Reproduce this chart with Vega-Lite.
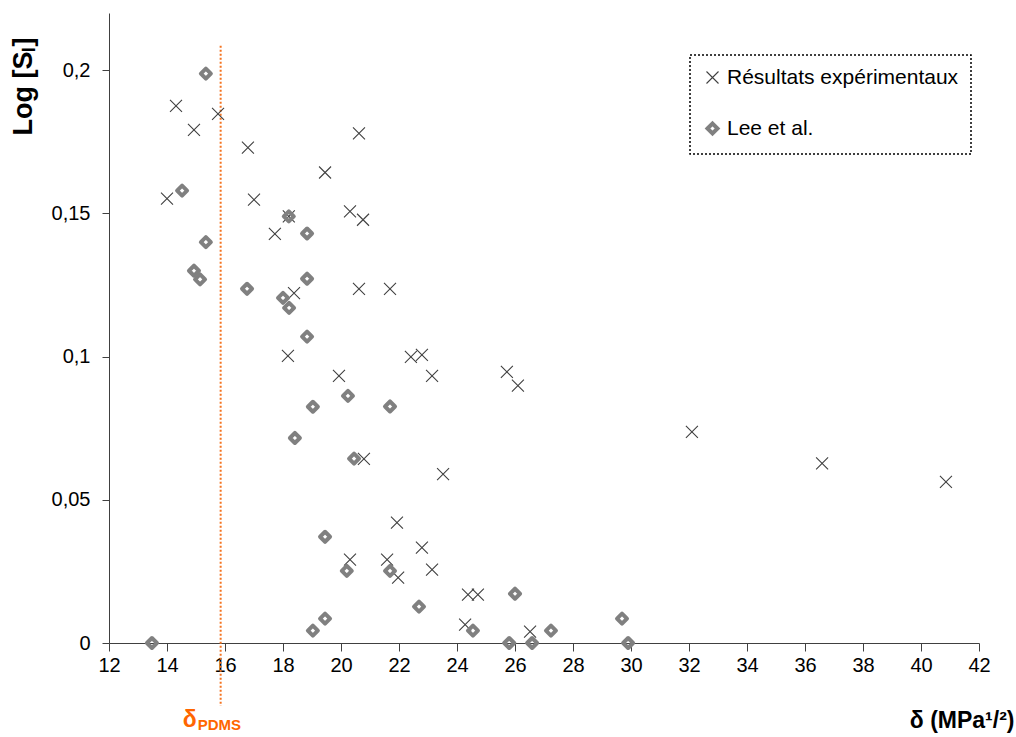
{
  "$schema": "https://vega.github.io/schema/vega-lite/v6.json",
  "width": 870,
  "height": 630,
  "autosize": {"type": "none"},
  "padding": {"left": 109, "top": 13, "right": 37, "bottom": 94},
  "background": "white",
  "config": {
    "view": {"stroke": null},
    "font": "Liberation Sans",
    "axis": {"grid": false, "domainColor": "#404040", "tickColor": "#404040", "labelColor": "#000000", "titleColor": "#000000", "labelFont": "Liberation Sans", "titleFont": "Liberation Sans"},
    "legend": {"strokeDash": [2, 2], "strokeWidth": 1.5}
  },
  "datasets": {
    "pts": [
      {"delta": 14.31, "logS": 0.1876, "serie": "Résultats expérimentaux"},
      {"delta": 14.93, "logS": 0.1792, "serie": "Résultats expérimentaux"},
      {"delta": 15.76, "logS": 0.1848, "serie": "Résultats expérimentaux"},
      {"delta": 16.79, "logS": 0.1730, "serie": "Résultats expérimentaux"},
      {"delta": 19.45, "logS": 0.1643, "serie": "Résultats expérimentaux"},
      {"delta": 17.0, "logS": 0.1548, "serie": "Résultats expérimentaux"},
      {"delta": 14.0, "logS": 0.1552, "serie": "Résultats expérimentaux"},
      {"delta": 17.72, "logS": 0.1429, "serie": "Résultats expérimentaux"},
      {"delta": 18.2, "logS": 0.149, "serie": "Résultats expérimentaux"},
      {"delta": 18.38, "logS": 0.1222, "serie": "Résultats expérimentaux"},
      {"delta": 18.17, "logS": 0.1003, "serie": "Résultats expérimentaux"},
      {"delta": 19.93, "logS": 0.0933, "serie": "Résultats expérimentaux"},
      {"delta": 20.62, "logS": 0.178, "serie": "Résultats expérimentaux"},
      {"delta": 20.31, "logS": 0.1507, "serie": "Résultats expérimentaux"},
      {"delta": 20.76, "logS": 0.1478, "serie": "Résultats expérimentaux"},
      {"delta": 20.62, "logS": 0.1237, "serie": "Résultats expérimentaux"},
      {"delta": 21.69, "logS": 0.1237, "serie": "Résultats expérimentaux"},
      {"delta": 22.41, "logS": 0.0999, "serie": "Résultats expérimentaux"},
      {"delta": 22.79, "logS": 0.1006, "serie": "Résultats expérimentaux"},
      {"delta": 23.14, "logS": 0.0933, "serie": "Résultats expérimentaux"},
      {"delta": 25.72, "logS": 0.0947, "serie": "Résultats expérimentaux"},
      {"delta": 26.1, "logS": 0.0899, "serie": "Résultats expérimentaux"},
      {"delta": 20.79, "logS": 0.0643, "serie": "Résultats expérimentaux"},
      {"delta": 23.52, "logS": 0.059, "serie": "Résultats expérimentaux"},
      {"delta": 21.93, "logS": 0.042, "serie": "Résultats expérimentaux"},
      {"delta": 22.79, "logS": 0.0333, "serie": "Résultats expérimentaux"},
      {"delta": 20.31, "logS": 0.0291, "serie": "Résultats expérimentaux"},
      {"delta": 21.59, "logS": 0.0291, "serie": "Résultats expérimentaux"},
      {"delta": 21.97, "logS": 0.0228, "serie": "Résultats expérimentaux"},
      {"delta": 23.14, "logS": 0.0256, "serie": "Résultats expérimentaux"},
      {"delta": 24.38, "logS": 0.0169, "serie": "Résultats expérimentaux"},
      {"delta": 24.72, "logS": 0.0169, "serie": "Résultats expérimentaux"},
      {"delta": 24.28, "logS": 0.0064, "serie": "Résultats expérimentaux"},
      {"delta": 26.52, "logS": 0.004, "serie": "Résultats expérimentaux"},
      {"delta": 32.1, "logS": 0.0737, "serie": "Résultats expérimentaux"},
      {"delta": 36.59, "logS": 0.0627, "serie": "Résultats expérimentaux"},
      {"delta": 40.86, "logS": 0.0563, "serie": "Résultats expérimentaux"},
      {"delta": 13.48, "logS": 0.0, "serie": "Lee et al."},
      {"delta": 15.34, "logS": 0.1988, "serie": "Lee et al."},
      {"delta": 14.52, "logS": 0.158, "serie": "Lee et al."},
      {"delta": 15.34, "logS": 0.140, "serie": "Lee et al."},
      {"delta": 14.93, "logS": 0.130, "serie": "Lee et al."},
      {"delta": 15.14, "logS": 0.127, "serie": "Lee et al."},
      {"delta": 16.76, "logS": 0.1237, "serie": "Lee et al."},
      {"delta": 18.2, "logS": 0.149, "serie": "Lee et al."},
      {"delta": 18.83, "logS": 0.143, "serie": "Lee et al."},
      {"delta": 18.0, "logS": 0.1205, "serie": "Lee et al."},
      {"delta": 18.21, "logS": 0.117, "serie": "Lee et al."},
      {"delta": 18.83, "logS": 0.1272, "serie": "Lee et al."},
      {"delta": 18.83, "logS": 0.107, "serie": "Lee et al."},
      {"delta": 19.03, "logS": 0.0825, "serie": "Lee et al."},
      {"delta": 18.41, "logS": 0.0716, "serie": "Lee et al."},
      {"delta": 20.24, "logS": 0.0863, "serie": "Lee et al."},
      {"delta": 20.45, "logS": 0.0644, "serie": "Lee et al."},
      {"delta": 19.45, "logS": 0.0371, "serie": "Lee et al."},
      {"delta": 20.2, "logS": 0.0252, "serie": "Lee et al."},
      {"delta": 19.03, "logS": 0.0043, "serie": "Lee et al."},
      {"delta": 19.45, "logS": 0.0085, "serie": "Lee et al."},
      {"delta": 21.69, "logS": 0.0826, "serie": "Lee et al."},
      {"delta": 21.69, "logS": 0.0252, "serie": "Lee et al."},
      {"delta": 22.69, "logS": 0.0127, "serie": "Lee et al."},
      {"delta": 24.55, "logS": 0.0043, "serie": "Lee et al."},
      {"delta": 26.0, "logS": 0.0172, "serie": "Lee et al."},
      {"delta": 25.8, "logS": 0.0, "serie": "Lee et al."},
      {"delta": 26.59, "logS": 0.0, "serie": "Lee et al."},
      {"delta": 27.24, "logS": 0.0043, "serie": "Lee et al."},
      {"delta": 29.69, "logS": 0.0085, "serie": "Lee et al."},
      {"delta": 29.9, "logS": 0.0, "serie": "Lee et al."}
    ],
    "pdms": [{"delta": 15.85, "sym": "δ", "sub": "PDMS"}]
  },
  "layer": [
    {
      "data": {"name": "pdms"},
      "mark": {"type": "rule", "color": "#F47320", "strokeDash": [2, 2], "strokeWidth": 2},
      "encoding": {
        "x": {"field": "delta", "type": "quantitative"},
        "y": {"datum": 0.2086},
        "y2": {"datum": -0.022}
      }
    },
    {
      "data": {"name": "pts"},
      "mark": {"type": "point", "filled": false, "opacity": 1, "strokeJoin": "round"},
      "encoding": {
        "x": {
          "field": "delta", "type": "quantitative",
          "scale": {"domain": [12, 42], "nice": false, "zero": false},
          "axis": {
            "values": [12, 14, 16, 18, 20, 22, 24, 26, 28, 30, 32, 34, 36, 38, 40, 42],
            "title": "δ (MPa¹/²)",
            "tickSize": 8, "labelFontSize": 20, "labelPadding": 4, "labelFlush": false,
            "titleFontSize": 23, "titleFontWeight": "bold",
            "titleAlign": "right", "titleBaseline": "middle", "titleX": 905, "titleY": 77
          }
        },
        "y": {
          "field": "logS", "type": "quantitative",
          "scale": {"domain": [0, 0.22], "nice": false},
          "axis": {
            "values": [0, 0.05, 0.1, 0.15, 0.2],
            "labelExpr": "replace(toString(datum.value), '.', ',')",
            "title": "Log [Sₗ]",
            "tickSize": 7, "labelFontSize": 20, "labelPadding": 12, "labelFlush": false,
            "titleFontSize": 27, "titleFontWeight": "bold",
            "titleAngle": -90, "titleAlign": "center", "titleBaseline": "middle", "titleX": -86, "titleY": 73
          }
        },
        "color": {
          "field": "serie", "type": "nominal",
          "scale": {"domain": ["Résultats expérimentaux", "Lee et al."], "range": ["#404040", "#808080"]},
          "legend": {
            "title": null, "orient": "none", "legendX": 581, "legendY": 42,
            "labelFontSize": 21, "labelColor": "#000000", "labelFont": "Liberation Sans", "labelLimit": 0,
            "rowPadding": 27, "padding": 12, "labelOffset": 4,
            "strokeColor": "#000000",
            "encode": {"legend": {"update": {"stroke": {"value": "#000000"}, "strokeDash": {"value": [2, 2]}, "strokeWidth": {"value": 1.5}}}}
          }
        },
        "shape": {
          "field": "serie", "type": "nominal",
          "scale": {"domain": ["Résultats expérimentaux", "Lee et al."], "range": ["M-1,-1L1,1M-1,1L1,-1", "diamond"]}
        },
        "size": {
          "field": "serie", "type": "nominal",
          "scale": {"domain": ["Résultats expérimentaux", "Lee et al."], "range": [144, 100]}
        },
        "strokeWidth": {
          "field": "serie", "type": "nominal",
          "scale": {"domain": ["Résultats expérimentaux", "Lee et al."], "range": [1.1, 4]}
        }
      }
    },
    {
      "data": {"name": "pdms"},
      "mark": {"type": "text", "color": "#FF6600", "fontWeight": "bold", "fontSize": 23, "align": "center", "baseline": "middle", "dx": -31},
      "encoding": {
        "x": {"field": "delta", "type": "quantitative"},
        "y": {"datum": -0.027},
        "text": {"field": "sym"}
      }
    },
    {
      "data": {"name": "pdms"},
      "mark": {"type": "text", "color": "#FF6600", "fontWeight": "bold", "fontSize": 15, "align": "left", "baseline": "middle", "dx": -23},
      "encoding": {
        "x": {"field": "delta", "type": "quantitative"},
        "y": {"datum": -0.0285},
        "text": {"field": "sub"}
      }
    }
  ]
}
